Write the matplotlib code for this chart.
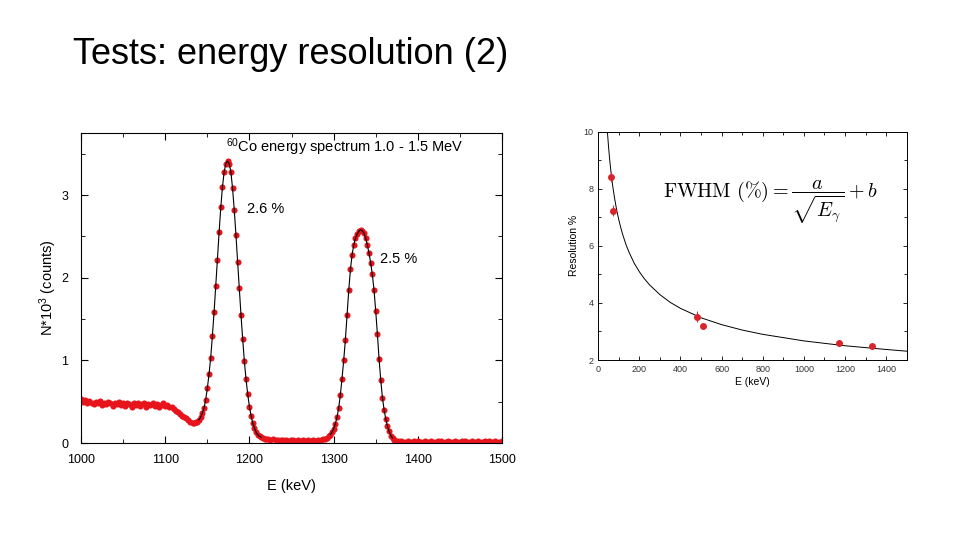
import numpy as np
from matplotlib import pyplot as plt
from matplotlib.ticker import MultipleLocator

plt.rcParams['font.family'] = ['Liberation Sans', 'DejaVu Sans']
plt.rcParams['mathtext.fontset'] = 'custom'
plt.rcParams['mathtext.rm'] = 'Liberation Sans'
plt.rcParams['mathtext.it'] = 'Liberation Sans:italic'

# 60Co spectrum (counts in 10^3)
e_flat_start, e_flat_step = 1000.0, 2.5
n_flat = [0.53, 0.50, 0.52, 0.48, 0.51, 0.49, 0.47, 0.50, 0.48, 0.51,
          0.46, 0.49, 0.47, 0.50, 0.48, 0.45, 0.49, 0.47, 0.50, 0.46,
          0.48, 0.45, 0.49, 0.47, 0.44, 0.48, 0.46, 0.49, 0.45, 0.47,
          0.48, 0.44, 0.47, 0.46, 0.48, 0.45, 0.47, 0.44, 0.46, 0.48,
          0.45, 0.46, 0.44, 0.43, 0.41, 0.39, 0.37, 0.35, 0.33, 0.32,
          0.30, 0.28, 0.26, 0.24]

e_peak1_start, e_peak1_step = 1134.0, 2.0
n_peak1 = [0.24, 0.25, 0.26, 0.28, 0.31, 0.36, 0.42, 0.52, 0.66, 0.83,
           1.03, 1.29, 1.58, 1.90, 2.22, 2.55, 2.85, 3.10, 3.28, 3.38,
           3.41, 3.38, 3.28, 3.08, 2.82, 2.52, 2.19, 1.87, 1.55, 1.26,
           0.99, 0.77, 0.59, 0.44, 0.33, 0.24, 0.18, 0.13, 0.10, 0.08,
           0.07, 0.06, 0.05, 0.05]

e_mid_start, e_mid_step = 1222.0, 3.0
n_mid = [0.05, 0.04, 0.045, 0.04, 0.035, 0.04, 0.035, 0.04, 0.03, 0.035,
         0.04, 0.03, 0.035, 0.03, 0.035, 0.03, 0.04, 0.03, 0.035, 0.03,
         0.04, 0.035, 0.045]

e_peak2_start, e_peak2_step = 1290.0, 2.0
n_peak2 = [0.05, 0.06, 0.08, 0.10, 0.13, 0.17, 0.23, 0.31, 0.42, 0.58,
           0.78, 1.00, 1.25, 1.55, 1.85, 2.10, 2.28, 2.40, 2.48, 2.53,
           2.56, 2.58, 2.57, 2.54, 2.48, 2.40, 2.30, 2.18, 2.04, 1.85,
           1.60, 1.32, 1.02, 0.76, 0.55, 0.40, 0.29, 0.20, 0.14, 0.09,
           0.06, 0.04, 0.03, 0.02]

e_tail_start, e_tail_step = 1380.0, 4.0
n_tail = [0.02, 0.015, 0.02, 0.015, 0.02, 0.02, 0.015, 0.02, 0.015, 0.02,
          0.015, 0.02, 0.02, 0.015, 0.02, 0.015, 0.02, 0.015, 0.02, 0.02,
          0.015, 0.02, 0.015, 0.02, 0.015, 0.02, 0.02, 0.015, 0.02, 0.015,
          0.02]

# resolution vs energy
res_e = [62, 73, 478, 511, 1173, 1332]
res_val = [8.42, 7.23, 3.52, 3.20, 2.61, 2.50]
res_err = [0.18, 0.20, 0.19, 0.05, 0.04, 0.03]

# fit curve
fit_e = [45, 50, 55, 60, 65, 70, 80, 90, 100, 110, 120, 135, 150, 175, 200,
         225, 250, 300, 350, 400, 500, 600, 700, 800, 1000, 1200, 1400, 1500]
fit_val = [9.94, 9.47, 9.06, 8.71, 8.39, 8.11, 7.64, 7.24, 6.91, 6.62, 6.37,
           6.04, 5.77, 5.39, 5.09, 4.84, 4.63, 4.29, 4.02, 3.81, 3.48, 3.24,
           3.05, 2.90, 2.67, 2.50, 2.37, 2.31]


def energies(start, step, values):
    return start + step * np.arange(len(values))


red = '#e8141c'

fig = plt.figure(figsize=(9.6, 5.4), dpi=100)
fig.text(0.076, 0.899, 'Tests: energy resolution (2)', fontsize=26,
         va='center', ha='left')

# left panel: spectrum
ax = fig.add_axes([0.0844, 0.1796, 0.4385, 0.574])
segments = [(e_flat_start, e_flat_step, n_flat),
            (e_peak1_start, e_peak1_step, n_peak1),
            (e_mid_start, e_mid_step, n_mid),
            (e_peak2_start, e_peak2_step, n_peak2),
            (e_tail_start, e_tail_step, n_tail)]
for start, step, vals in segments:
    ax.plot(energies(start, step, vals), vals, 'o', color=red, ms=4.4,
            mew=0, zorder=2)
for start, step, vals in [segments[1], segments[3]]:
    ax.plot(energies(start, step, vals)[3:-3], vals[3:-3], '-', color='k',
            lw=0.8, zorder=3)

ax.set_xlim(1000, 1500)
ax.set_ylim(0, 3.75)
ax.xaxis.set_major_locator(MultipleLocator(100))
ax.xaxis.set_minor_locator(MultipleLocator(50))
ax.yaxis.set_major_locator(MultipleLocator(1))
ax.yaxis.set_minor_locator(MultipleLocator(0.5))
ax.tick_params(which='both', direction='in', top=True, right=True,
               labelsize=9)
ax.tick_params(which='major', length=5)
ax.tick_params(which='minor', length=3)
ax.tick_params(axis='x', pad=8)
ax.tick_params(axis='y', pad=9)
ax.set_xlabel('E (keV)', fontsize=10.5, labelpad=9)
ax.set_ylabel('N*10$^3$ (counts)', fontsize=10.5, labelpad=2)
ax.text(0.345, 0.955, '$^{60}$Co energy spectrum 1.0 - 1.5 MeV',
        transform=ax.transAxes, fontsize=10.5, va='center')
ax.text(0.395, 0.755, '2.6 %', transform=ax.transAxes, fontsize=10.5,
        va='center')
ax.text(0.71, 0.595, '2.5 %', transform=ax.transAxes, fontsize=10.5,
        va='center')

# right panel: resolution
ax2 = fig.add_axes([0.6232, 0.3333, 0.3212, 0.4228])
ax2.plot(fit_e, fit_val, '-', color='k', lw=0.7)
ax2.errorbar(res_e, res_val, yerr=res_err, fmt='o', color='#d8242a',
             ms=5, mew=0, elinewidth=0.7, capsize=2, capthick=0.7)
ax2.set_xlim(0, 1500)
ax2.set_ylim(2, 10)
ax2.xaxis.set_major_locator(MultipleLocator(200))
ax2.xaxis.set_minor_locator(MultipleLocator(100))
ax2.yaxis.set_major_locator(MultipleLocator(2))
ax2.yaxis.set_minor_locator(MultipleLocator(1))
ax2.tick_params(which='both', direction='in', top=True, right=True,
                labelsize=6.5, width=0.6, labelcolor='#333333')
ax2.tick_params(which='major', length=3)
ax2.tick_params(which='minor', length=2)
for s in ax2.spines.values():
    s.set_linewidth(0.7)
ax2.set_xlabel('E (keV)', fontsize=7.5, labelpad=2)
ax2.set_ylabel('Resolution %', fontsize=7.5, labelpad=3)
ax2.text(0.21, 0.69, r'$\mathrm{FWHM}\ (\%) = \dfrac{a}{\sqrt{E_\gamma}} + b$',
         transform=ax2.transAxes, fontsize=14.5, va='center',
         math_fontfamily='cm')

plt.savefig('out.png', dpi=100)
